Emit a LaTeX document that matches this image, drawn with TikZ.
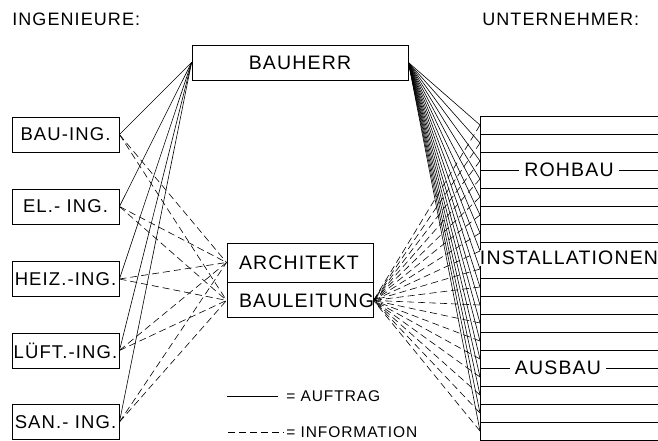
\documentclass[tikz,border=0pt]{standalone}
\usepackage{fontspec}
\setmainfont{Liberation Sans}[LetterSpace=6]
\usetikzlibrary{positioning}

\tikzset{
  box/.style={draw,line width=0.9pt,inner sep=0pt,minimum height=35pt,font=\fontsize{19.5}{19.5}\selectfont},
  ingbox/.style={box,minimum width=107pt,font=\fontsize{18.5}{18.5}\selectfont},
  archbox/.style={box,minimum width=146pt,text width=122pt,align=left},
  heading/.style={inner sep=0pt,anchor=west,font=\fontsize{18}{18}\selectfont},
  legend/.style={inner sep=0pt,anchor=west,font=\fontsize{15.5}{15.5}\selectfont},
  rowlabel/.style={fill=white,inner xsep=5pt,inner ysep=1pt,font=\fontsize{19.5}{19.5}\selectfont},
  info/.style={dash pattern=on 7pt off 4pt}
}

\begin{document}
\begin{tikzpicture}[x=1pt,y=-1pt,line width=0.6pt]
    \useasboundingbox (0,0) rectangle (658,441);
    \node [heading] (ingenieure) at (12,19) {INGENIEURE:};
    \node [heading] (unternehmer) at (482,19) {UNTERNEHMER:};
    \node [box,minimum width=216pt] (bauherr) at (300,62.5) {BAUHERR};
    \node [ingbox] (bauing) at (65.5,134.5) {BAU-ING.};
    \node [ingbox] (eling) at (65.5,206.5) {EL.- ING.};
    \node [ingbox] (heizing) at (65.5,279) {HEIZ.-ING.};
    \node [ingbox] (luefting) at (65.5,350.5) {LÜFT.-ING.};
    \node [ingbox] (saning) at (65.5,422) {SAN.- ING.};
    \node [archbox,minimum height=39pt] (architekt) at (300,262.5) {ARCHITEKT};
    \node [archbox,below=0pt of architekt] (bauleitung) {BAULEITUNG};
    % Unternehmer
    \draw [line width=0.9pt] (658,116) -| (480,440) -- (658,440);
    \foreach \k in {1,...,17}
        \draw [line width=0.7pt] (480,{116+18*\k}) -- (658,{116+18*\k});
    \node [rowlabel] (rohbau) at (569,170) {ROHBAU};
    \node [rowlabel,inner xsep=1pt] (installationen) at (569,258) {INSTALLATIONEN};
    \node [rowlabel] (ausbau) at (558,368) {AUSBAU};
    \foreach \j in {0,...,17}
        \coordinate (slot\j) at (480,{125+18*\j});
    \foreach \j in {0,...,17} {
        \draw (bauherr.east) -- (slot\j);
        \draw [info] (slot\j) -- (bauleitung.east);
    }
    % Ingenieure
    \foreach \n in {bauing,eling,heizing,luefting,saning} {
        \draw (bauherr.west) -- (\n.east);
        \draw [info] (\n.east) -- (architekt.west);
        \draw [info] (\n.east) -- (bauleitung.west);
    }
    % Legende
    \node [legend] (auftrag) at (286,396) {= AUFTRAG};
    \node [legend] (information) at (286,432) {= INFORMATION};
    \coordinate (auftragstart) at (227,396);
    \coordinate (informationstart) at (228,432);
    \draw (auftragstart) -- ([xshift=-8pt]auftrag.west);
    \draw [dash pattern=on 7pt off 4pt] (informationstart) -- ([xshift=-2pt]information.west);
\end{tikzpicture}
\end{document}
